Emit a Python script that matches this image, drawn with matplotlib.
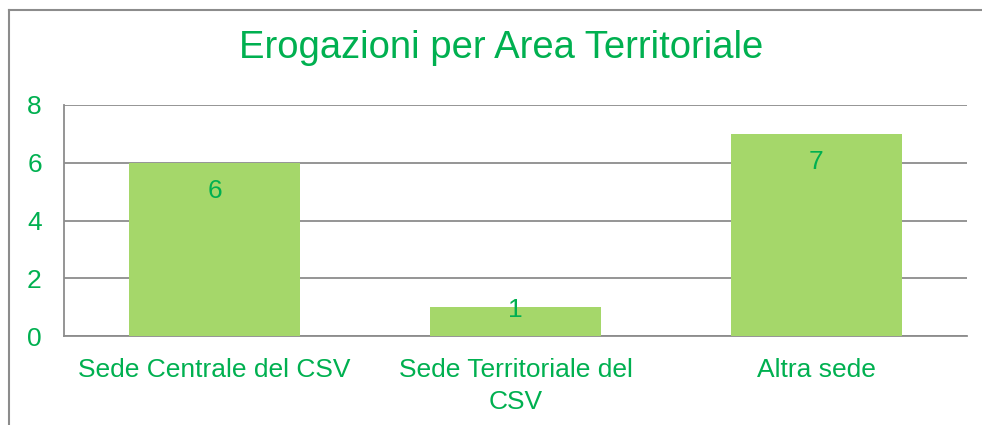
import matplotlib
matplotlib.use("Agg")
import matplotlib.pyplot as plt
from matplotlib.lines import Line2D

categories = ["Sede Centrale del CSV", "Sede Territoriale del\nCSV", "Altra sede"]
values = [6, 1, 7]
yticks = [0, 2, 4, 6, 8]
title = "Erogazioni per Area Territoriale"

GREEN = "#00B050"
BAR = "#A5D76A"
GRID = "#8C8C8C"

plt.rcParams['font.family'] = ['Liberation Sans', 'DejaVu Sans']

fig = plt.figure(figsize=(9.82, 4.25), dpi=100)
ax = fig.add_axes([64/982, 1-336/425, (967-64)/982, (336-105)/425])

x = list(range(len(categories)))
bars = ax.bar(x, values, width=0.57, color=BAR, zorder=3)
ax.set_xlim(-0.5, len(categories)-0.5)
ax.set_ylim(0, 8)
ax.set_yticks(yticks)
ax.set_xticks(x)
ax.set_xticklabels(categories, fontsize=19, color=GREEN, linespacing=1.4)
ax.tick_params(axis='y', length=0, pad=16, labelsize=19, labelcolor=GREEN)
ax.tick_params(axis='x', length=0, pad=16)
ax.yaxis.grid(True, color=GRID, linewidth=1.3, zorder=0)
for s in ['top', 'right']:
    ax.spines[s].set_visible(False)
for s in ['left', 'bottom']:
    ax.spines[s].set_color(GRID)
    ax.spines[s].set_linewidth(1.3)

for xi, v in zip(x, values):
    ly = v - 0.97 if v > 2 else v - 0.1
    ax.text(xi, ly, str(v), ha='center', va='center', fontsize=19, color=GREEN, zorder=4)

fig.text(501/982, 1-48/425, title, ha='center', va='center', fontsize=27.5, color=GREEN)

# outer chart border (partly cropped)
fig.add_artist(Line2D([9/982, 9/982], [0, 1-10/425], color=GRID, linewidth=1.5, transform=fig.transFigure))
fig.add_artist(Line2D([9/982, 1], [1-10/425, 1-10/425], color=GRID, linewidth=1.5, transform=fig.transFigure))

fig.savefig("out.png", dpi=100)
